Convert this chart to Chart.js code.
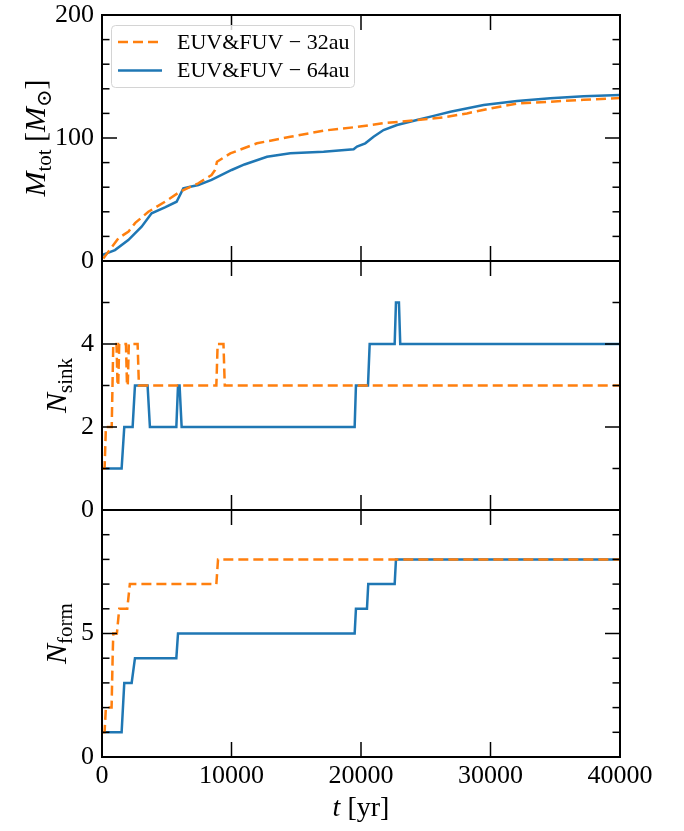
<!DOCTYPE html>
<html>
<head>
<meta charset="utf-8">
<script src="https://cdn.jsdelivr.net/npm/chart.js@4.4.1/dist/chart.umd.min.js"></script>
<style>
html, body { margin: 0; padding: 0; background: #fff; }
#wrap { position: relative; width: 684px; height: 831px; }
canvas { position: absolute; left: 0; top: 0; }
</style>
</head>
<body>
<div id="wrap">
  <canvas id="massChart" width="684" height="831"></canvas>
  <canvas id="sinkChart" width="684" height="831"></canvas>
  <canvas id="formChart" width="684" height="831"></canvas>
</div>
<script>
// series labels
const label32 = 'EUV&FUV \u2212 32au';
const label64 = 'EUV&FUV \u2212 64au';

// total mass [Msun] vs time [yr]
const tMass32 = [100, 1260, 2050, 2570, 3580, 4860, 6020, 7440, 8460, 8730, 8880, 9910, 11970, 14540, 17110, 19690, 21740, 24320, 26380, 28180, 29980, 32050, 34620, 37190, 40000];
const mass32  = [2, 18.4, 24, 31, 40, 48.2, 56.3, 63.2, 69.9, 74, 80.7, 87.5, 95.7, 101, 106, 109, 112, 114.6, 116.8, 120, 124, 128, 129.5, 131, 132.5];
const tMass64 = [0, 1000, 2030, 3060, 3830, 4860, 5760, 6280, 6820, 7440, 8460, 10010, 11000, 12740, 14540, 17110, 19430, 19690, 20330, 20970, 21740, 22780, 24320, 25610, 26900, 29470, 32050, 34620, 37190, 40000];
const mass64  = [4.9, 8.9, 17, 27.9, 38.8, 43.6, 48.2, 59, 60.4, 61.8, 65.9, 74, 78.5, 84.8, 87.6, 88.9, 90.8, 93, 95.7, 101, 106.5, 110.6, 114.6, 118, 121.4, 126.8, 130, 132.3, 134, 135];

// number of sinks
const tSink32 = [0, 200, 300, 750, 870, 1120, 1200, 1250, 1330, 1850, 1930, 1990, 2070, 2750, 2850, 8830, 8930, 9380, 9480, 40000];
const nSink32 = [1, 1, 2, 2, 4, 4, 3, 3, 4, 4, 3, 3, 4, 4, 3, 3, 4, 4, 3, 3];
const tSink64 = [0, 1515, 1720, 2365, 2545, 3520, 3700, 5740, 5870, 5990, 6150, 19510, 19610, 20540, 20670, 22600, 22700, 22930, 23030, 40000];
const nSink64 = [1, 1, 2, 2, 3, 3, 2, 2, 3, 3, 2, 2, 3, 3, 4, 4, 5, 5, 4, 4];

// number of formed sinks
const tForm32 = [0, 200, 300, 740, 820, 870, 1150, 1330, 1950, 2150, 8830, 8960, 40000];
const nForm32 = [1, 1, 2, 2, 4, 5, 5, 6, 6, 7, 7, 8, 8];
const tForm64 = [0, 1515, 1720, 2290, 2545, 5740, 5870, 19510, 19610, 20460, 20560, 22600, 22700, 40000];
const nForm64 = [1, 1, 3, 3, 4, 4, 5, 5, 6, 6, 7, 7, 8, 8];

const xTicks = [0, 10000, 20000, 30000, 40000];

const ORANGE = '#ff7f0e';
const BLUE = '#1f77b4';
const SERIF = "'Liberation Serif', 'DejaVu Serif', serif";
const PLOT_LEFT = 102, PLOT_RIGHT = 620;

function zip(ts, vs) {
  return ts.map((t, i) => ({x: t, y: vs[i]}));
}

function seriesPair(t32, v32, t64, v64) {
  // orange first so it is drawn on top
  return [
    {label: label32, data: zip(t32, v32), borderColor: ORANGE, borderWidth: 2.5, borderDash: [10, 5], pointRadius: 0, fill: false},
    {label: label64, data: zip(t64, v64), borderColor: BLUE, borderWidth: 2.5, pointRadius: 0, fill: false}
  ];
}

// draws "math" text made of parts (italic / subscript)
function drawRich(ctx, parts, cx, cy, rotate, size) {
  const subSize = Math.round(size * 0.7);
  const fontOf = p => (p.it ? 'italic ' : '') + (p.sub ? subSize : size) + 'px ' + SERIF;
  let total = 0;
  parts.forEach(p => { ctx.font = fontOf(p); p.w = ctx.measureText(p.t).width; total += p.w; });
  ctx.save();
  ctx.translate(cx, cy);
  if (rotate) ctx.rotate(-Math.PI / 2);
  ctx.fillStyle = '#000';
  ctx.textBaseline = 'alphabetic';
  let x = -total / 2;
  parts.forEach(p => {
    ctx.font = fontOf(p);
    ctx.fillText(p.t, x, size * 0.35 + (p.sub ? size * 0.22 : 0));
    x += p.w;
  });
  ctx.restore();
}

// box + inward ticks on all four sides
const framePlugin = {
  id: 'frame',
  afterDraw(chart, args, opts) {
    const {ctx, chartArea: a} = chart;
    const xs = chart.scales.x, ys = chart.scales.y;
    ctx.save();
    ctx.strokeStyle = '#000';
    ctx.lineWidth = 1.5;
    const seg = (x1, y1, x2, y2) => { ctx.beginPath(); ctx.moveTo(x1, y1); ctx.lineTo(x2, y2); ctx.stroke(); };
    const n = Math.round(opts.yMax / opts.yMinor);
    for (let i = 0; i <= n; i++) {
      const v = i * opts.yMinor;
      const py = ys.getPixelForValue(v);
      const major = (i * opts.yMinor) % opts.yStep === 0;
      const len = major ? 15 : 7.5;
      seg(a.left, py, a.left + len, py);
      seg(a.right, py, a.right - len, py);
    }
    xTicks.forEach(v => {
      const px = xs.getPixelForValue(v);
      seg(px, a.top, px, a.top + 15);
      seg(px, a.bottom, px, a.bottom - 15);
    });
    ctx.lineWidth = 2;
    ctx.strokeRect(a.left, a.top, a.right - a.left, a.bottom - a.top);
    ctx.restore();
    if (opts.title) drawRich(ctx, opts.title, opts.titleX, (a.top + a.bottom) / 2, true, 30);
    if (opts.xTitle) drawRich(ctx, opts.xTitle, (a.left + a.right) / 2, 806, false, 28);
  }
};

// legend box in the upper left of the mass panel
const legendPlugin = {
  id: 'boxLegend',
  afterDraw(chart, args, opts) {
    if (!opts.show) return;
    const ctx = chart.ctx;
    ctx.save();
    ctx.beginPath();
    ctx.roundRect(111.5, 25.5, 243, 62, 4);
    ctx.fillStyle = 'rgba(255,255,255,0.8)';
    ctx.fill();
    ctx.strokeStyle = '#d4d4d4';
    ctx.lineWidth = 1;
    ctx.stroke();
    chart.data.datasets.forEach((ds, i) => {
      const yRow = 42 + i * 28.5;
      ctx.beginPath();
      ctx.setLineDash(ds.borderDash || []);
      ctx.strokeStyle = ds.borderColor;
      ctx.lineWidth = ds.borderWidth;
      ctx.moveTo(118, yRow);
      ctx.lineTo(162, yRow);
      ctx.stroke();
      ctx.setLineDash([]);
      ctx.fillStyle = '#000';
      ctx.font = '22px ' + SERIF;
      ctx.textBaseline = 'middle';
      ctx.fillText(ds.label, 177, yRow + 1);
    });
    ctx.restore();
  }
};

function panelChart(id, top, bottom, yMax, yStep, yMinor, hideTop, datasets, extra) {
  const showX = !!extra.xTitle;
  return new Chart(document.getElementById(id), {
    type: 'line',
    data: {datasets: datasets},
    plugins: [framePlugin, legendPlugin],
    options: {
      responsive: false,
      animation: false,
      events: [],
      layout: {padding: {left: 0, right: 684 - PLOT_RIGHT, top: top, bottom: 0}},
      elements: {line: {tension: 0}},
      plugins: {
        legend: {display: false},
        tooltip: {enabled: false},
        frame: {yMax: yMax, yStep: yStep, yMinor: yMinor, title: extra.title, titleX: extra.titleX, xTitle: extra.xTitle},
        boxLegend: {show: !!extra.legend}
      },
      scales: {
        x: {
          type: 'linear', min: 0, max: 40000,
          grid: {display: false, drawTicks: false}, border: {display: false},
          afterBuildTicks: s => { s.ticks = xTicks.map(v => ({value: v})); },
          ticks: {display: showX, color: '#000', font: {family: SERIF, size: 26}, padding: 4, maxRotation: 0, autoSkip: false,
                  callback: v => String(v)},
          afterFit: s => { s.height = 831 - bottom; s.paddingLeft = 0; s.paddingRight = 0; }
        },
        y: {
          min: 0, max: yMax,
          grid: {display: false, drawTicks: false}, border: {display: false},
          ticks: {stepSize: yStep, color: '#000', font: {family: SERIF, size: 26}, padding: 8,
                  callback: v => (hideTop && v === yMax) ? '' : String(v)},
          afterFit: s => { s.width = PLOT_LEFT; s.paddingTop = 0; s.paddingBottom = 0; }
        }
      }
    }
  });
}

panelChart('massChart', 15, 261, 200, 100, 20, false,
  seriesPair(tMass32, mass32, tMass64, mass64),
  {legend: true, titleX: 34, title: [{t: 'M', it: true}, {t: 'tot', sub: true}, {t: ' ['}, {t: 'M', it: true}, {t: '\u2299', sub: true}, {t: ']'}]});

panelChart('sinkChart', 261, 510, 6, 2, 1, true,
  seriesPair(tSink32, nSink32, tSink64, nSink64),
  {titleX: 55, title: [{t: 'N', it: true}, {t: 'sink', sub: true}]});

panelChart('formChart', 510, 757, 10, 5, 1, true,
  seriesPair(tForm32, nForm32, tForm64, nForm64),
  {titleX: 55, title: [{t: 'N', it: true}, {t: 'form', sub: true}], xTitle: [{t: 't', it: true}, {t: ' [yr]'}]});
</script>
</body>
</html>
